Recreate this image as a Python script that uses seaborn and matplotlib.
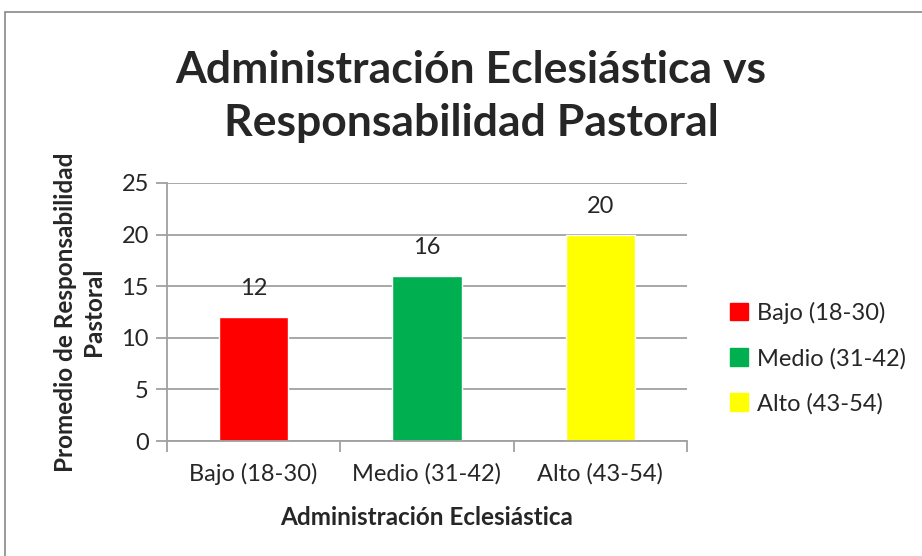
import matplotlib
matplotlib.use("Agg")
import matplotlib.pyplot as plt
import matplotlib.patches as mpatches
import pandas as pd
import seaborn as sns

categories = ["Bajo (18-30)", "Medio (31-42)", "Alto (43-54)"]
values = [12, 16, 20]
bar_colors = ["#FF0000", "#00B050", "#FFFF00"]
y_ticks = [0, 5, 10, 15, 20, 25]

sns.set_theme(style="white")
plt.rcParams["font.family"] = ["Lato", "DejaVu Sans"]

df = pd.DataFrame({"categoria": categories, "promedio": values})

fig = plt.figure(figsize=(9.22, 5.56), dpi=100)
ax = fig.add_axes([0.1811, 0.2068, 0.564, 0.4641])

sns.barplot(data=df, x="categoria", y="promedio", hue="categoria",
            palette=bar_colors, width=0.4, saturation=1, legend=False, ax=ax)

ax.set_ylim(0, 25)
ax.set_yticks(y_ticks)
ax.yaxis.grid(True, color="#A0A0A0", linewidth=1.3)
ax.set_axisbelow(True)
for side in ["top", "right"]:
    ax.spines[side].set_visible(False)
ax.spines["left"].set_color("#A0A0A0")
ax.spines["bottom"].set_color("#A0A0A0")
ax.spines["left"].set_linewidth(1.3)
ax.spines["bottom"].set_linewidth(1.3)

# category ticks sit between bars, like Excel
ax.set_xticks([-0.5, 0.5, 1.5, 2.5], minor=True)
ax.tick_params(axis="x", which="minor", length=8, color="#A0A0A0", width=1.3, bottom=True)
ax.tick_params(axis="x", which="major", length=0, labelsize=17, pad=16)
ax.tick_params(axis="y", length=8, color="#A0A0A0", width=1.3, labelsize=17, pad=5, left=True)
ax.set_xlim(-0.5, 2.5)

for container in ax.containers:
    ax.bar_label(container, fontsize=17, padding=13)

ax.set_xlabel("Administración Eclesiástica", fontsize=17.5, fontweight="bold", labelpad=15)
ax.set_ylabel("Promedio de Responsabilidad\nPastoral", fontsize=17.5, fontweight="bold",
              labelpad=12, linespacing=1.25)

fig.text(0.511, 0.826, "Administración Eclesiástica vs\nResponsabilidad Pastoral",
         ha="center", va="center", fontsize=32, fontweight="bold", linespacing=1.4)

handles = [mpatches.Patch(color=c) for c in bar_colors]
fig.legend(handles, categories, loc="center left", bbox_to_anchor=(0.792, 0.356),
           bbox_transform=fig.transFigure, frameon=False, fontsize=17,
           handlelength=0.75, handleheight=0.75, labelspacing=1.0, handletextpad=0.4,
           borderaxespad=0, borderpad=0)

# chart border (top and left edges visible in the crop)
fig.patches.append(mpatches.Rectangle((5 / 922, -0.1), 1.2, 1.1 - 12 / 556,
                                      transform=fig.transFigure, fill=False,
                                      edgecolor="#888888", linewidth=1.2))

fig.savefig("out.png", dpi=100)
